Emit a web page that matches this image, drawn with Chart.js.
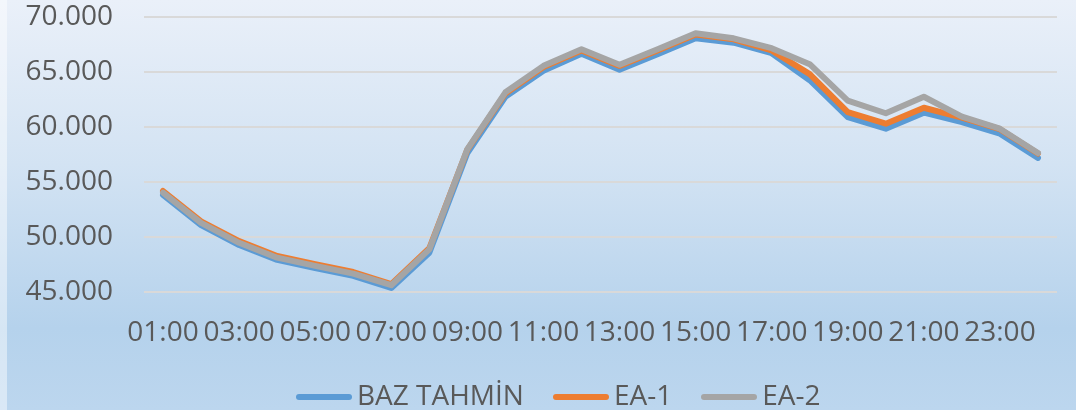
<!DOCTYPE html>
<html>
<head>
<meta charset="utf-8">
<script src="https://cdn.jsdelivr.net/npm/chart.js@4.4.1/dist/chart.umd.min.js"></script>
<style>
  html, body { margin: 0; padding: 0; }
  body { width: 1076px; height: 410px; overflow: hidden; }
  #wrap {
    position: relative; width: 1076px; height: 410px;
    background: linear-gradient(180deg, #EAF0F9 0%, #D3E3F3 40%, #B5D2EC 80%, #BCD6EE 100%);
    font-family: 'Open Sans', sans-serif;
  }
  #strip { position: absolute; left: 0; top: 0; width: 7px; height: 410px; background: rgba(255,255,255,0.45); }
  canvas { position: absolute; left: 0; top: 0; }
  #legend { position: absolute; left: 296px; top: 375px; display: flex; align-items: center; font-size: 28px; color: #595959; white-space: nowrap; line-height: 38px; }
  .item { display: flex; align-items: center; margin-right: 29px; }
  .sw { width: 56px; height: 6px; border-radius: 3px; margin-right: 5px; position: relative; top: 3px; }
</style>
</head>
<body>
<div id="wrap">
  <div id="strip"></div>
  <canvas id="c" width="1076" height="410"></canvas>
  <div id="legend"></div>
</div>
<script>
const hours = ['01:00','02:00','03:00','04:00','05:00','06:00','07:00','08:00','09:00','10:00','11:00','12:00',
               '13:00','14:00','15:00','16:00','17:00','18:00','19:00','20:00','21:00','22:00','23:00','24:00'];
const seriesNames = ['BAZ TAHMİN', 'EA-1', 'EA-2'];
const bazTahmin = [53850, 51100, 49300, 47950, 47200, 46500, 45400, 48600, 57650, 62750, 65100, 66650,
                   65200, 66600, 68050, 67650, 66700, 64250, 60900, 59850, 61300, 60450, 59400, 57200];
const ea1 =       [54200, 51450, 49650, 48300, 47550, 46850, 45750, 49000, 57950, 63050, 65450, 66950,
                   65550, 66950, 68400, 67950, 66950, 64800, 61350, 60300, 61750, 60850, 59800, 57600];
const ea2 =       [54050, 51300, 49500, 48150, 47400, 46700, 45650, 48900, 58000, 63150, 65550, 67050,
                   65650, 67050, 68500, 68050, 67150, 65700, 62400, 61250, 62750, 60950, 59850, 57650];
const yTicks = [45000, 50000, 55000, 60000, 65000, 70000];
const colors = ['#5B9BD5', '#ED7D31', '#A5A5A5'];

function fmt(v) {
  return String(Math.round(v)).replace(/\B(?=(\d{3})+(?!\d))/g, '.');
}

function build() {
  Chart.defaults.font.family = "'Open Sans', sans-serif";
  Chart.defaults.font.size = 28;
  Chart.defaults.color = '#595959';
  const values = [bazTahmin, ea1, ea2];
  const datasets = values.map((d, i) => ({
    label: seriesNames[i],
    data: d,
    borderColor: colors[i],
    backgroundColor: colors[i],
    borderWidth: 6,
    pointRadius: 0,
    pointHoverRadius: 0,
    tension: 0,
    borderJoinStyle: 'round',
    borderCapStyle: 'round',
    order: 3 - i
  }));
  new Chart(document.getElementById('c'), {
    type: 'line',
    data: { labels: hours, datasets },
    options: {
      responsive: false,
      animation: false,
      layout: { padding: { left: 0, right: 19, top: 1, bottom: 36 } },
      plugins: { legend: { display: false }, tooltip: { enabled: false } },
      scales: {
        x: {
          type: 'category',
          offset: true,
          grid: { display: false, drawTicks: false },
          border: { display: false },
          ticks: {
            autoSkip: false, maxRotation: 0, minRotation: 0, padding: 24,
            callback: function(val, idx) { return idx % 2 === 0 ? hours[idx] : ''; }
          }
        },
        y: {
          min: yTicks[0], max: yTicks[yTicks.length - 1],
          afterBuildTicks: (s) => { s.ticks = yTicks.map(v => ({ value: v })); },
          afterFit: (s) => { s.width = 144; },
          grid: { color: '#D9D9D9', lineWidth: 2, drawTicks: true, tickLength: 31, tickColor: 'rgba(0,0,0,0)' },
          border: { display: false },
          ticks: { padding: 0, callback: (v) => fmt(v) }
        }
      }
    }
  });
  const lg = document.getElementById('legend');
  seriesNames.forEach((n, i) => {
    const it = document.createElement('div');
    it.className = 'item';
    const sw = document.createElement('span');
    sw.className = 'sw';
    sw.style.background = colors[i];
    const tx = document.createElement('span');
    tx.textContent = n;
    it.appendChild(sw); it.appendChild(tx);
    lg.appendChild(it);
  });
}

if (document.fonts && document.fonts.load) {
  document.fonts.load("28px 'Open Sans'").then(build, build);
} else { build(); }
</script>
</body>
</html>
